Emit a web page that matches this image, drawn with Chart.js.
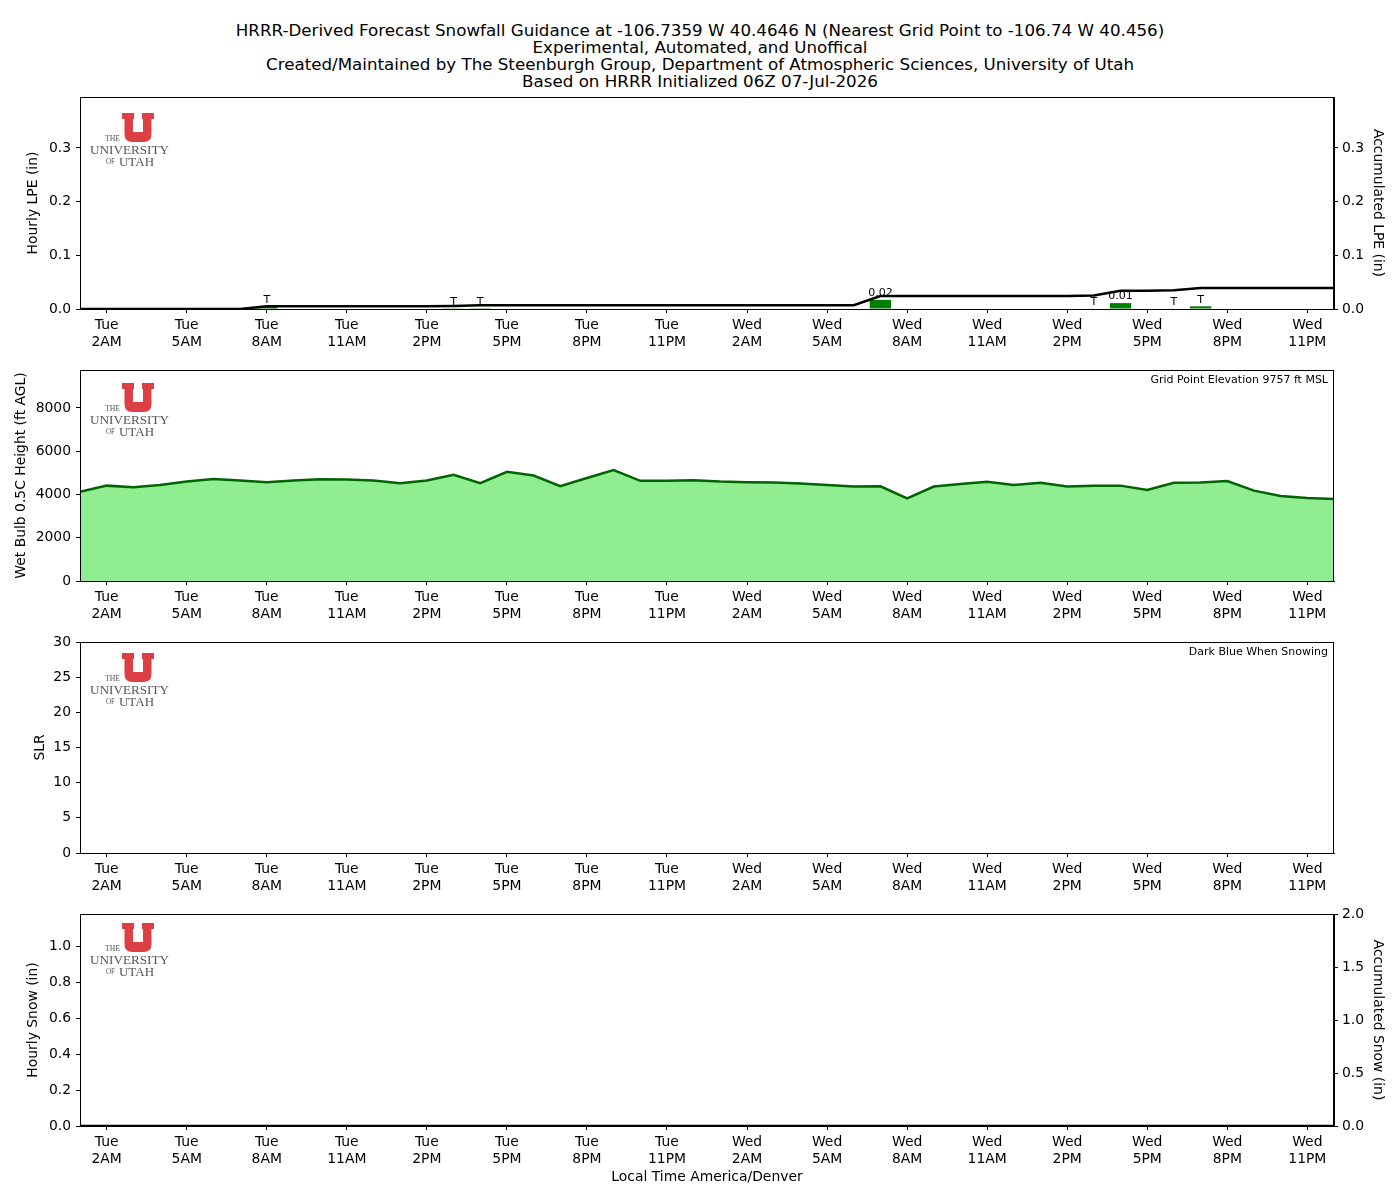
<!DOCTYPE html>
<html>
<head>
<meta charset="utf-8">
<script src="https://cdn.jsdelivr.net/npm/chart.js@4.4.0/dist/chart.umd.min.js"></script>
<style>
  body { margin: 0; background: #fff; }
  #wrap { position: relative; width: 1400px; height: 1200px; font-family: "DejaVu Sans", sans-serif; }
  #title { position: absolute; left: 0; top: 22px; width: 1400px; text-align: center; font-size: 16.7px; line-height: 17px; color: #000; }
  canvas { position: absolute; left: 0; }
</style>
</head>
<body>
<div id="wrap">
  <div id="title">
    HRRR-Derived Forecast Snowfall Guidance at -106.7359 W 40.4646 N (Nearest Grid Point to -106.74 W 40.456)<br>
    Experimental, Automated, and Unoffical<br>
    Created/Maintained by The Steenburgh Group, Department of Atmospheric Sciences, University of Utah<br>
    Based on HRRR Initialized 06Z 07-Jul-2026
  </div>
  <canvas id="lpe" width="1400" height="272" style="top:87px"></canvas>
  <canvas id="wetbulb" width="1400" height="271" style="top:360px"></canvas>
  <canvas id="slr" width="1400" height="271" style="top:632px"></canvas>
  <canvas id="snow" width="1400" height="292" style="top:904px"></canvas>
</div>
<script>
// forecast hours, 0 = Tue 1AM local
var hours = [0, 1, 2, 3, 4, 5, 6, 7, 8, 9, 10, 11, 12, 13, 14, 15, 16, 17, 18, 19, 20, 21, 22, 23,
  24, 25, 26, 27, 28, 29, 30, 31, 32, 33, 34, 35, 36, 37, 38, 39, 40, 41, 42, 43, 44, 45, 46, 47];

var tickHours = [1, 4, 7, 10, 13, 16, 19, 22, 25, 28, 31, 34, 37, 40, 43, 46];
var tickDays = ["Tue", "Tue", "Tue", "Tue", "Tue", "Tue", "Tue", "Tue", "Wed", "Wed", "Wed", "Wed", "Wed", "Wed", "Wed", "Wed"];
var tickTimes = ["2AM", "5AM", "8AM", "11AM", "2PM", "5PM", "8PM", "11PM", "2AM", "5AM", "8AM", "11AM", "2PM", "5PM", "8PM", "11PM"];

// y tick values for each axis
var lpeTicks = [0, 0.1, 0.2, 0.3];
var wetTicks = [0, 2000, 4000, 6000, 8000];
var slrTicks = [0, 5, 10, 15, 20, 25, 30];
var snowTicks = [0, 0.2, 0.4, 0.6, 0.8, 1.0];
var accSnowTicks = [0, 0.5, 1.0, 1.5, 2.0];

// hourly liquid precip (in)
var hourlyLpe = [0, 0, 0, 0, 0, 0, 0, 0.004, 0, 0, 0, 0, 0, 0, 0.0005, 0.0015, 0, 0, 0, 0, 0, 0, 0, 0,
  0, 0, 0, 0, 0, 0, 0.017, 0, 0, 0, 0, 0, 0, 0, 0.001, 0.011, 0, 0.001, 0.005, 0, 0, 0, 0, 0];
// accumulated liquid precip (in)
var accumLpe = [0, 0, 0, 0, 0, 0, 0, 0.005, 0.005, 0.005, 0.005, 0.005, 0.005, 0.005, 0.0055, 0.007, 0.007, 0.007, 0.007, 0.007, 0.007, 0.007, 0.007, 0.007,
  0.007, 0.007, 0.007, 0.007, 0.007, 0.007, 0.024, 0.024, 0.024, 0.024, 0.024, 0.024, 0.024, 0.024, 0.025, 0.034, 0.034, 0.035, 0.039, 0.039, 0.039, 0.039, 0.039, 0.039];

// wet bulb 0.5C height (ft AGL)
var wetBulb = [4130, 4410, 4340, 4440, 4600, 4720, 4650, 4570, 4650, 4710, 4690, 4650, 4520, 4650, 4910, 4520, 5050, 4880, 4380, 4760, 5130, 4630, 4630, 4660,
  4600, 4570, 4550, 4510, 4440, 4370, 4380, 3820, 4370, 4480, 4590, 4440, 4540, 4370, 4410, 4410, 4210, 4540, 4550, 4620, 4180, 3930, 3840, 3790];
var gridElevation = 9757;

// snow-to-liquid ratio, no snow so nothing plotted
var slr = [];

var hourlySnow = [0, 0, 0, 0, 0, 0, 0, 0, 0, 0, 0, 0, 0, 0, 0, 0, 0, 0, 0, 0, 0, 0, 0, 0,
  0, 0, 0, 0, 0, 0, 0, 0, 0, 0, 0, 0, 0, 0, 0, 0, 0, 0, 0, 0, 0, 0, 0, 0];
var accumSnow = [0, 0, 0, 0, 0, 0, 0, 0, 0, 0, 0, 0, 0, 0, 0, 0, 0, 0, 0, 0, 0, 0, 0, 0,
  0, 0, 0, 0, 0, 0, 0, 0, 0, 0, 0, 0, 0, 0, 0, 0, 0, 0, 0, 0, 0, 0, 0, 0];

Chart.defaults.color = "#000";
Chart.defaults.font.family = "'DejaVu Sans', sans-serif";
var tickFont = { size: 13.9 };

function pts(ys) {
  return hours.map(function (h, i) { return { x: h, y: ys[i] }; });
}

function xAxis(height, title) {
  var ax = {
    type: "linear", min: 0, max: 47, offset: false,
    grid: { display: true, drawOnChartArea: false, drawTicks: true, tickLength: 4, color: "#000", offset: false },
    border: { display: true, color: "#000" },
    ticks: {
      autoSkip: false, maxRotation: 0, minRotation: 0, padding: 4, font: tickFont,
      callback: function (v) {
        var i = tickHours.indexOf(v);
        return i < 0 ? "" : [tickDays[i], tickTimes[i]];
      }
    },
    afterBuildTicks: function (s) { s.ticks = tickHours.map(function (v) { return { value: v }; }); },
    afterFit: function (s) { s.height = height; s.paddingLeft = 0; s.paddingRight = 0; }
  };
  if (title) ax.title = { display: true, text: title, font: tickFont, padding: { top: 0, bottom: 10.7 } };
  return ax;
}

function yAxis(pos, max, tickVals, fmt, title, titlePad, width) {
  return {
    type: "linear", position: pos, min: 0, max: max,
    grid: { display: true, drawOnChartArea: false, drawTicks: true, tickLength: 4, color: "#000" },
    border: { display: true, color: "#000" },
    ticks: { padding: pos === "left" ? 5 : 4, font: tickFont, callback: fmt },
    afterBuildTicks: function (s) { s.ticks = tickVals.map(function (v) { return { value: v }; }); },
    title: { display: true, text: title, font: tickFont, padding: { top: titlePad, bottom: 0 } },
    afterFit: function (s) { s.width = width; s.paddingTop = 0; s.paddingBottom = 0; }
  };
}

function fitText(ctx, txt, left, cy, w, size) {
  ctx.font = size + "px 'Liberation Serif', serif";
  var m = ctx.measureText(txt).width;
  ctx.save();
  ctx.translate(left, cy);
  ctx.scale(w / m, 1);
  ctx.fillText(txt, 0, 0);
  ctx.restore();
}

function drawLogo(ctx, x, y) {
  ctx.save();
  ctx.fillStyle = "#dc3f44";
  ctx.beginPath();
  ctx.moveTo(x, y); ctx.lineTo(x + 12, y); ctx.lineTo(x + 12, y + 6); ctx.lineTo(x + 11, y + 6);
  ctx.lineTo(x + 11, y + 19); ctx.lineTo(x + 21, y + 19); ctx.lineTo(x + 21, y + 6); ctx.lineTo(x + 20, y + 6);
  ctx.lineTo(x + 20, y); ctx.lineTo(x + 32, y); ctx.lineTo(x + 32, y + 6); ctx.lineTo(x + 29.5, y + 6);
  ctx.lineTo(x + 29.5, y + 21);
  ctx.quadraticCurveTo(x + 29.5, y + 29, x + 21.5, y + 29);
  ctx.lineTo(x + 10.5, y + 29);
  ctx.quadraticCurveTo(x + 2.5, y + 29, x + 2.5, y + 21);
  ctx.lineTo(x + 2.5, y + 6); ctx.lineTo(x, y + 6);
  ctx.closePath();
  ctx.fill();
  ctx.fillStyle = "#555";
  ctx.textBaseline = "middle";
  ctx.textAlign = "left";
  fitText(ctx, "THE", x - 17, y + 26, 15, 8);
  fitText(ctx, "UNIVERSITY", x - 32, y + 38, 79, 12.5);
  fitText(ctx, "OF", x - 16, y + 49, 9, 8);
  fitText(ctx, "UTAH", x - 3, y + 50, 35, 12.5);
  ctx.restore();
}

function panelPlugin(logoTop, note) {
  return {
    id: "panel",
    afterDatasetsDraw: function (chart) {
      var a = chart.chartArea, ctx = chart.ctx;
      ctx.save();
      ctx.strokeStyle = "#000";
      ctx.lineWidth = 1;
      ctx.strokeRect(a.left + 0.5, a.top + 0.5, a.right - a.left - 1, a.bottom - a.top);
      drawLogo(ctx, a.left + 42, a.top + logoTop);
      if (note) {
        ctx.font = "11px 'DejaVu Sans', sans-serif";
        ctx.fillStyle = "#000";
        ctx.textAlign = "right";
        ctx.textBaseline = "middle";
        ctx.fillText(note, a.right - 6, a.top + 10);
      }
      ctx.restore();
    }
  };
}

var barLabels = {
  id: "barLabels",
  afterDatasetsDraw: function (chart) {
    var ctx = chart.ctx, xs = chart.scales.x, ys = chart.scales.y;
    ctx.save();
    ctx.font = "11px 'DejaVu Sans', sans-serif";
    ctx.fillStyle = "#000";
    ctx.textAlign = "center";
    ctx.textBaseline = "bottom";
    hourlyLpe.forEach(function (v, i) {
      if (v <= 0) return;
      var t = v < 0.01 ? "T" : v.toFixed(2);
      ctx.fillText(t, xs.getPixelForValue(hours[i]), ys.getPixelForValue(v) - 1);
    });
    ctx.restore();
  }
};

function fmt1(v) { return v.toFixed(1); }
function fmt0(v) { return String(v); }

var baseOpts = { responsive: false, animation: false, events: [], plugins: { legend: { display: false }, tooltip: { enabled: false } } };

new Chart(document.getElementById("lpe"), {
  type: "bar",
  data: {
    datasets: [
      { type: "line", data: pts(accumLpe), yAxisID: "y2", borderColor: "#000", borderWidth: 2.5, pointRadius: 0, order: 0 },
      { type: "bar", data: pts(hourlyLpe), yAxisID: "y", backgroundColor: "#008000", barPercentage: 0.8, categoryPercentage: 1, order: 1 }
    ]
  },
  options: Object.assign({}, baseOpts, {
    layout: { padding: { top: 10 } },
    scales: {
      x: xAxis(50),
      y: yAxis("left", 0.395, lpeTicks, fmt1, "Hourly LPE (in)", 24.7, 80),
      y2: yAxis("right", 0.395, lpeTicks, fmt1, "Accumulated LPE (in)", 13.7, 66)
    }
  }),
  plugins: [panelPlugin(16), barLabels]
});

new Chart(document.getElementById("wetbulb"), {
  type: "line",
  data: {
    datasets: [
      { data: pts(wetBulb), borderColor: "#006400", borderWidth: 2.5, backgroundColor: "#90ee90", fill: "origin", pointRadius: 0 }
    ]
  },
  options: Object.assign({}, baseOpts, {
    layout: { padding: { top: 10, right: 66 } },
    scales: {
      x: xAxis(50),
      y: yAxis("left", gridElevation, wetTicks, fmt0, "Wet Bulb 0.5C Height (ft AGL)", 12.7, 80)
    }
  }),
  plugins: [panelPlugin(13, "Grid Point Elevation " + gridElevation + " ft MSL")]
});

new Chart(document.getElementById("slr"), {
  type: "line",
  data: { datasets: [{ data: slr, borderColor: "#00008b", pointRadius: 0 }] },
  options: Object.assign({}, baseOpts, {
    layout: { padding: { top: 10, right: 66 } },
    scales: {
      x: xAxis(50),
      y: yAxis("left", 30, slrTicks, fmt0, "SLR", 31.7, 80)
    }
  }),
  plugins: [panelPlugin(11, "Dark Blue When Snowing")]
});

new Chart(document.getElementById("snow"), {
  type: "bar",
  data: {
    datasets: [
      { type: "line", data: pts(accumSnow), yAxisID: "y2", borderColor: "#000", borderWidth: 2.5, pointRadius: 0, order: 0 },
      { type: "bar", data: pts(hourlySnow), yAxisID: "y", backgroundColor: "#00008b", barPercentage: 0.8, categoryPercentage: 1, order: 1 }
    ]
  },
  options: Object.assign({}, baseOpts, {
    layout: { padding: { top: 10 } },
    scales: {
      x: xAxis(70, "Local Time America/Denver"),
      y: yAxis("left", 1.178, snowTicks, fmt1, "Hourly Snow (in)", 24.7, 80),
      y2: yAxis("right", 2.0, accSnowTicks, fmt1, "Accumulated Snow (in)", 13.7, 66)
    }
  }),
  plugins: [panelPlugin(9)]
});
</script>
</body>
</html>
